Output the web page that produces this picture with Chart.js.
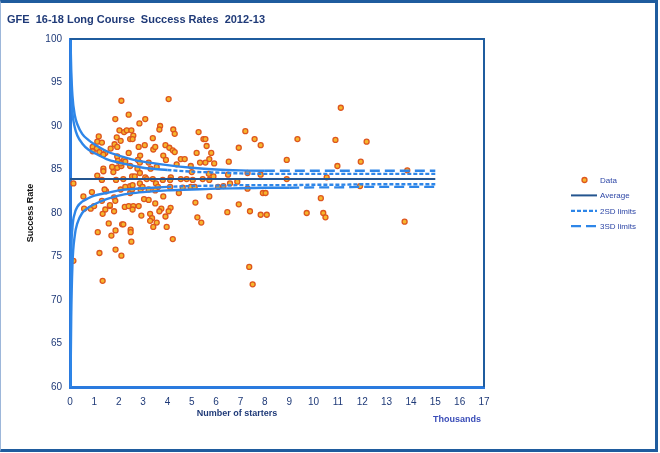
<!DOCTYPE html>
<html>
<head>
<meta charset="utf-8">
<script src="https://cdn.jsdelivr.net/npm/chart.js@4.4.1/dist/chart.umd.min.js"></script>
<style>
  html, body { margin: 0; padding: 0; background: #e9ecef; }
  #wrap { position: relative; width: 660px; height: 453px; background: #fff; }
  #frame {
    position: absolute; left: 0; top: 0; width: 658px; height: 452px; box-sizing: border-box;
    border-top: 3px solid #1f5c9e; border-right: 3px solid #1f5c9e; border-bottom: 3px solid #1f5c9e;
    border-left: 1px solid #9db7da; pointer-events: none;
  }
  canvas { position: absolute; left: 0; top: 0; }
</style>
</head>
<body>
<div id="wrap">
  <canvas id="funnelChart" width="660" height="453"></canvas>
  <div id="frame"></div>
</div>
<script>
// Number of starters (thousands) and success rate (%) for each provider
const starters = [
  2.11, 1.86, 2.41, 2.85, 2.03, 2.22, 2.33, 2.52, 2.60, 1.18, 1.12, 1.31, 0.93, 1.10, 1.21, 0.93, 1.45, 1.37,
  1.92, 2.08, 2.47, 2.57, 1.83, 1.67, 1.94, 2.41, 2.82, 1.94, 2.22, 2.27, 2.88, 2.79, 1.37, 1.37, 1.73, 1.78,
  1.94, 2.11, 2.47, 2.77, 1.12, 1.31, 1.89, 2.19, 2.55, 2.66, 0.14, 1.48, 0.90, 0.55, 2.08, 2.27, 2.47, 2.47,
  2.55, 2.57, 2.90, 1.81, 1.86, 1.31, 0.58, 0.85, 0.99, 1.45, 1.64, 1.34, 1.81, 2.25, 2.41, 2.60, 2.82, 2.57,
  2.93, 1.59, 2.14, 2.19, 1.14, 1.87, 1.70, 2.49, 2.49, 2.52, 1.21, 1.87, 2.11, 0.14, 1.34, 7.36, 7.50,
  4.05, 3.09, 3.70, 3.67, 4.24, 4.30, 3.40, 5.28, 5.48, 5.56, 5.61, 3.07, 3.42, 3.50, 3.92, 4.08, 4.22, 4.30,
  5.20, 5.80, 5.72, 3.83, 3.94, 2.87, 3.23, 4.38, 4.55, 4.71, 5.34, 5.56, 5.92, 4.96, 3.31, 3.56, 5.00, 5.70,
  2.87, 3.09, 3.40, 3.81, 4.14, 4.11, 4.55, 4.79, 5.04, 5.45, 5.72, 3.15, 5.89, 2.87, 3.53, 3.61, 3.50, 3.23,
  2.98, 4.11, 4.63, 4.96, 5.12, 6.08, 4.47, 3.83, 5.72, 3.04, 3.23, 5.15, 3.50, 3.29, 3.37, 3.29, 3.42, 3.56,
  3.75, 4.13, 3.67, 4.05, 3.92, 5.23, 5.39, 3.97, 4.22, 1.97, 2.08, 1.42, 1.64,
  7.20, 7.58, 7.83, 6.93, 9.34, 6.52, 8.90, 6.49, 7.29, 7.83, 8.90, 6.30, 6.57, 6.87, 7.29, 7.92, 8.03, 6.93,
  6.46, 7.39, 7.83, 8.08,
  11.12, 10.90, 12.18, 10.98, 11.94, 13.85, 10.54, 11.91, 10.30, 9.72, 10.40, 10.49, 13.74
];
const successRates = [
  92.9, 90.8, 91.3, 90.3, 89.5, 89.3, 89.5, 89.5, 88.9, 88.8, 88.2, 88.1, 87.6, 87.4, 87.0, 87.1, 86.9, 86.7,
  88.7, 88.3, 88.5, 88.5, 87.9, 87.4, 87.6, 86.9, 87.6, 86.5, 86.1, 85.9, 86.6, 86.1, 85.1, 84.8, 85.3, 84.7,
  85.2, 85.4, 85.4, 85.1, 84.3, 83.8, 83.8, 83.9, 84.2, 84.2, 83.4, 82.5, 82.4, 81.9, 82.7, 83.0, 83.1, 82.3,
  82.7, 83.2, 82.7, 81.8, 81.4, 81.4, 80.5, 80.5, 80.8, 80.4, 80.8, 79.9, 80.2, 80.7, 80.8, 80.8, 80.8, 80.4,
  79.7, 78.8, 78.7, 78.7, 77.8, 78.0, 77.4, 78.1, 77.8, 76.7, 75.4, 75.8, 75.1, 74.5, 72.2, 73.8, 71.8,
  93.1, 90.8, 90.0, 89.6, 89.6, 89.1, 88.6, 89.3, 88.5, 88.5, 87.7, 87.8, 87.3, 87.6, 87.8, 87.5, 87.2, 87.0,
  86.9, 86.9, 86.2, 86.6, 86.1, 85.8, 85.8, 85.6, 86.2, 86.2, 85.8, 85.8, 85.7, 85.4, 85.1, 85.3, 84.7, 84.5,
  84.6, 84.1, 83.9, 83.8, 84.1, 83.8, 83.9, 83.9, 83.8, 83.9, 83.8, 83.9, 84.2, 83.4, 83.4, 83.0, 82.6, 82.7,
  83.0, 83.0, 82.9, 83.0, 83.0, 83.0, 82.3, 81.9, 81.9, 81.6, 81.5, 81.2, 81.1, 79.9, 79.4, 79.1, 78.4, 78.9,
  80.5, 80.6, 80.2, 80.2, 79.6, 79.5, 78.9, 78.4, 77.0, 86.0, 85.7, 82.7, 80.9,
  89.4, 88.5, 87.8, 87.5, 88.5, 85.9, 86.1, 84.4, 84.6, 84.4, 83.9, 83.1, 83.4, 83.6, 82.8, 82.3, 82.3, 81.0,
  80.1, 80.2, 79.8, 79.8,
  92.1, 88.4, 88.2, 85.4, 85.9, 84.9, 84.1, 83.1, 81.7, 80.0, 80.0, 79.5, 79.0
];

// Control limit curves
const limitX   = [0.02, 0.05, 0.1, 0.2, 0.3, 0.5, 0.75, 1, 1.5, 2, 2.5, 3, 4, 5, 6, 7, 8, 9, 10, 11, 12, 13, 14, 15];
const upper3sd = [100, 96.5, 93.5, 91.2, 90.2, 89.1, 88.4, 87.9, 87.1, 86.6, 86.2, 85.9, 85.5, 85.2, 85.0, 84.9, 84.85, 84.85, 84.85, 84.85, 84.85, 84.85, 84.85, 84.85];
const upper2sd = [98, 94, 91.5, 89.8, 88.9, 88.0, 87.3, 86.9, 86.2, 85.8, 85.5, 85.2, 84.95, 84.75, 84.65, 84.55, 84.5, 84.5, 84.5, 84.5, 84.5, 84.5, 84.5, 84.5];
const lower2sd = [66, 75, 78.3, 80.0, 80.7, 81.3, 81.7, 82.0, 82.3, 82.6, 82.75, 82.85, 83.0, 83.1, 83.15, 83.2, 83.2, 83.2, 83.25, 83.25, 83.3, 83.3, 83.3, 83.3];
const lower3sd = [60, 68, 74, 77.5, 78.8, 80.0, 80.6, 81.0, 81.6, 82.0, 82.25, 82.4, 82.6, 82.7, 82.8, 82.85, 82.9, 82.9, 82.95, 82.95, 83.0, 83.0, 83.0, 83.0];
const averageX = [0, 15];
const averageRate = 83.9;

const xTickMax = 17;
const yTickMin = 60;
const yTickMax = 100;

const navy = '#1f3a78';
const curveBlue = '#2e86e8';
const fontFamily = "'Liberation Sans', Arial, sans-serif";

function toPoints(xs, ys) {
  return xs.map((x, i) => ({ x: x, y: ys[i] }));
}

function limitLine(label, ys, dash, solidUntil) {
  return {
    type: 'line',
    label: label,
    data: toPoints(limitX, ys),
    borderColor: curveBlue,
    borderWidth: 2.4,
    borderDash: dash,
    pointRadius: 0,
    fill: false,
    cubicInterpolationMode: 'monotone',
    segment: {
      borderDash: ctx => ctx.p0.parsed.x < solidUntil ? [] : undefined
    }
  };
}

// Title, axis titles, legend and the top/right frame of the plot
const decorations = {
  id: 'decorations',
  afterDraw(chart) {
    const ctx = chart.ctx;
    const area = chart.chartArea;
    ctx.save();

    ctx.strokeStyle = '#1f5c9e';
    ctx.lineWidth = 2;
    ctx.beginPath();
    ctx.moveTo(area.left, area.top);
    ctx.lineTo(area.right, area.top);
    ctx.lineTo(area.right, area.bottom);
    ctx.stroke();

    ctx.fillStyle = navy;
    ctx.textBaseline = 'middle';
    ctx.textAlign = 'left';
    ctx.font = 'bold 11px ' + fontFamily;
    ctx.fillText('GFE  16-18 Long Course  Success Rates  2012-13', 7, 19.5);

    ctx.font = 'bold 9px ' + fontFamily;
    ctx.textAlign = 'center';
    ctx.fillText('Number of starters', 237, 414);
    ctx.fillStyle = '#3a4db8';
    ctx.fillText('Thousands', 457, 420);

    ctx.fillStyle = '#111';
    ctx.save();
    ctx.translate(31, 213);
    ctx.rotate(-Math.PI / 2);
    ctx.fillText('Success Rate', 0, 0);
    ctx.restore();

    // legend
    const items = chart.data.datasets.filter(d => d.legendRow !== undefined);
    ctx.font = '8px ' + fontFamily;
    ctx.textAlign = 'left';
    items.forEach(d => {
      const y = 180 + d.legendRow * 15.4;
      if (d.type === 'line') {
        ctx.strokeStyle = d.borderColor;
        ctx.lineWidth = d.legendRow === 1 ? 2 : 2.2;
        ctx.setLineDash(d.borderDash || []);
        ctx.beginPath();
        ctx.moveTo(571, y);
        ctx.lineTo(597, y);
        ctx.stroke();
        ctx.setLineDash([]);
      } else {
        ctx.fillStyle = d.backgroundColor;
        ctx.strokeStyle = d.borderColor;
        ctx.lineWidth = 1.3;
        ctx.beginPath();
        ctx.arc(584.5, y, 2.5, 0, Math.PI * 2);
        ctx.fill();
        ctx.stroke();
      }
      ctx.fillStyle = '#2d46a6';
      ctx.fillText(d.label, 600, y + 0.5);
    });
    ctx.restore();
  }
};

const chartCtx = document.getElementById('funnelChart').getContext('2d');
const funnelChart = new Chart(chartCtx, {
  type: 'scatter',
  data: {
    datasets: [
      Object.assign(limitLine('3SD limits', upper3sd, [10, 5], 7.8), { legendRow: 3 }),
      limitLine('3SD limits', lower3sd, [10, 5], 8.6),
      Object.assign(limitLine('2SD limits', upper2sd, [4, 2], 3.4), { legendRow: 2 }),
      limitLine('2SD limits', lower2sd, [4, 2], 3.6),
      {
        type: 'line',
        label: 'Average',
        legendRow: 1,
        data: averageX.map(x => ({ x: x, y: averageRate })),
        borderColor: '#24558f',
        borderWidth: 2,
        pointRadius: 0
      },
      {
        label: 'Data',
        legendRow: 0,
        data: toPoints(starters, successRates),
        backgroundColor: '#f6b62c',
        borderColor: '#de561e',
        borderWidth: 1.3,
        pointRadius: 2.5
      }
    ]
  },
  options: {
    responsive: false,
    animation: false,
    layout: { padding: { left: 0, top: 39, right: 176, bottom: 0 } },
    plugins: {
      legend: { display: false },
      title: { display: false },
      tooltip: { enabled: false }
    },
    scales: {
      x: {
        type: 'linear',
        min: 0,
        max: xTickMax,
        ticks: { stepSize: 1, color: navy, padding: 9, font: { family: fontFamily, size: 10 } },
        grid: { display: false, drawTicks: false },
        border: { display: true, color: '#2a7ade', width: 3 },
        afterFit: scale => { scale.height = 66; }
      },
      y: {
        min: yTickMin,
        max: yTickMax,
        ticks: { stepSize: 5, color: navy, padding: 8, font: { family: fontFamily, size: 10 } },
        grid: { display: false, drawTicks: false },
        border: { display: true, color: '#2a7ade', width: 3 },
        afterFit: scale => { scale.width = 70; }
      }
    }
  },
  plugins: [decorations]
});
</script>
</body>
</html>
